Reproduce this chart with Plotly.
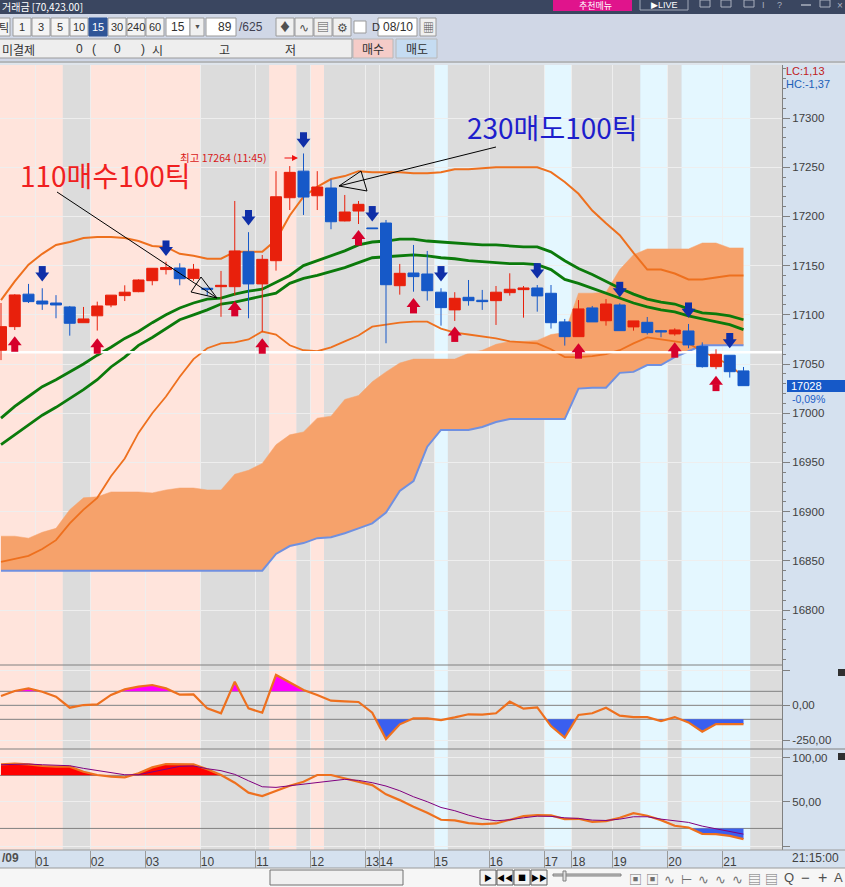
import numpy as np
import plotly.graph_objects as go

W, H = 845, 887

# ---------- data ----------
open_ = [17064,17088,17121,17114,17112,17108,17092,17099,17110,17119.5,17123.5,17134.7,17146,17147.6,17137,17127,17128.6,17128.6,17164,17131.4,
         17155,17219,17246,17221,17228.9,17195.4,17205.5,17188.3,17193.3,17129.6,17142.5,17141.5,17123,17105,17117.8,17114.8,17114.4,17122.5,17125.6,17127.3,
         17121.9,17092.8,17077.8,17107,17094,17110,17087.7,17092.4,17083.9,17080.6,17083.6,17068,17047.3,17058.9,17043]
high_ = [17112,17121,17131.4,17127,17120,17109,17108,17113.4,17120,17130,17136,17147.5,17154,17152.4,17151.7,17127,17144.6,17215.7,17184,17160.8,
         17246,17251.2,17264,17246,17237.7,17221.8,17215.7,17188.3,17196.4,17151.7,17171,17164.9,17127,17123,17135.4,17125.3,17129.3,17142.2,17129.3,17130.3,
         17130.3,17095.8,17115,17109,17116,17111.7,17093.8,17097.8,17084.6,17086.3,17090.7,17072,17065,17058.9,17047]
low_ = [17054,17084.6,17112,17105,17096.5,17078.8,17092,17084,17107.7,17114,17123,17130,17141,17130,17134.7,17119.5,17098,17120,17096.5,17082.9,
        17144.9,17206.5,17201.5,17206.5,17187,17195,17192.3,17187.6,17071.1,17120.5,17123.5,17114.4,17089,17093.8,17109.3,17105,17089.7,17119.5,17097.1,17103.2,
        17086,17068.7,17077.8,17092.8,17089,17083.9,17083.9,17080,17077.2,17078.8,17066,17046.3,17044.7,17036.2,17028]
close_ = [17088,17120.2,17113.4,17111,17110,17091.4,17095.8,17109,17120,17123,17135.4,17147.3,17148,17136.7,17146.3,17126,17130,17164.9,17131.4,17156.4,
          17220,17244.8,17219.7,17229.9,17194.6,17204.5,17212.3,17187.6,17130.6,17142.2,17138.8,17124.5,17107.3,17116.8,17114.4,17113.4,17123,17126,17127.3,17119.2,
          17092,17077.8,17106,17092.8,17111,17083.9,17093.8,17081.9,17082.6,17084.6,17069.4,17047.3,17059.9,17042.2,17028]

cloud_top = [16875,16875,16873,16879,16883,16902,16914,16915,16920,16920,
             16920,16919,16922,16924,16924,16922,16922,16938,16942,16949,
             16968,16978,16981,16995,16997,17014,17018,17032,17042,17051,
             17055,17055,17055,17055,17061,17064,17070,17073,17073,17074,
             17080,17082,17122,17122,17123,17146,17161,17167,17167,17167,
             17167,17173,17173,17168,17168]
cloud_low = [16840,16840,16840,16840,16840,16840,16840,16840,16840,16840,
             16840,16840,16840,16840,16840,16840,16840,16840,16840,16840,
             16857,16865,16868,16873,16874,16878,16883,16888,16899,16921,
             16931,16966,16983,16983,16983,16986,16991,16994,16994,16994,
             16994,16994,17025,17026,17026,17041,17042,17049,17049,17057,
             17063,17069,17069,17069,17069]
bb_upper = [17115,17134,17151,17162,17171,17174,17178,17179,17179,17178,
            17175,17170,17169,17162,17160,17157,17157,17164,17164,17164,
            17176,17201,17220,17230,17238,17241,17246,17245,17245,17245,
            17244,17244,17245,17248,17248,17249,17250,17250,17250,17250,
            17245,17235,17223,17206,17193,17181,17163,17146,17146,17142,
            17136,17136,17138,17140,17140]
bb_lower = [16849,16852,16855,16862,16871,16888,16902,16914,16936,16954,
            16980,17000,17017,17037,17055,17066,17071,17072,17075,17083,
            17080,17069,17064,17063,17067,17073,17079,17088,17090,17092,
            17093,17093,17086,17082,17080,17078,17076,17073,17072,17071,
            17065,17057,17057,17058,17060,17064,17071,17077,17075,17073,
            17071,17063,17056,17049,17037]
ma_fast = [16995,17007,17017,17027,17034,17042,17050,17059,17067,17076,
           17083,17092,17100,17107,17112,17116,17117,17121,17124,17126,
           17133,17140,17150,17155,17160,17165,17171,17174,17175,17177,
           17177,17175,17174,17173,17172,17171,17171,17170,17169,17169,
           17164,17155,17147,17141,17134,17127,17121,17116,17113,17111,
           17106,17102,17101,17099,17095]
ma_slow = [16968,16978,16988,16998,17006,17015,17024,17034,17047,17057,
           17069,17077,17086,17095,17100,17105,17111,17113,17116,17119,
           17122,17132,17137,17140,17144,17148,17153,17158,17159,17160,
           17161,17160,17158,17157,17155,17154,17153,17152,17152,17151,
           17146,17136,17132,17127,17122,17117,17112,17108,17105,17103,
           17099,17096,17093,17090,17085]
cci = [66.5,102,121,97,62,-17,2,7,74,114,
       133,145,121,76,78,-22,-57,169,-22,-53,
       217,162,109,74,33,28,24,-53,-241,-136,
       -93,-93,-105,-86,-64,-67,-57,26,-24,-15,
       -148,-231,-69,-57,-17,-74,-84,-84,-112,-84,
       -122,-188,-134,-134,-134]
stoch_k = [92.4,93.2,92.4,90.6,89.8,89.8,84.1,80.4,78.5,77.7,
           82.3,89,92.8,92.8,92.4,86.8,80.4,71.7,60.4,56.6,
           62.6,68.3,72.8,80.4,80.4,76.6,72,69,58.5,52,
           44.5,37.7,29.8,29,26,24.9,25.6,29.4,33.9,35,
           34.7,30.5,30.9,27.5,28.3,32,37.3,34.3,29.4,23,
           21.1,13.9,13.5,11.6,7.9]
stoch_d = [92,92.8,92.8,92,91.3,90.9,87.9,85.3,83,80.7,
           80.7,83.8,87.5,90.2,90.6,87.5,85.3,81.1,73.9,67.1,
           66.4,68.3,69.8,71.7,74.3,75.5,74.3,71.7,67.9,62.6,
           55.8,50.2,43.7,40,35,30.9,28.6,29.8,32,33.9,
           33.6,32,31.3,29.4,29,30.5,33.2,33.2,30.5,29,
           26.8,22.6,19.6,17.3,13.5]
buy_bar = [1,7,17,19,26,30,33,42,49,52]
buy_price = [17069,17067,17105,17067,17177,17108,17079,17062,17063,17029]
sell_bar = [3,12,18,22,27,32,39,45,50,53]
sell_price = [17143,17169,17200,17279,17204,17143,17146,17127,17106,17075]
session = list("PPPPPGGPPPPPPPPGGGGGPPGPGGGGGGGGLGGGGGGGLLGGGGGLLGLLLLL")
session_colors = {"P": "#FFE4DC", "G": "#DCDCDC", "L": "#E4F7FF"}
date_start_bar = [3,7,11,15,19,23,27,28,32,36,40,42,45,49,53]
date_labels = ["01","02","03","10","11","12","13","14","15","16","17","18","19","20","21"]
price_ticks = [16800,16850,16900,16950,17000,17050,17100,17150,17200,17250,17300]
ref_price = 17062
last_price = 17028
cci_levels = [100,0,-100]
stoch_levels = [80,20]

bars = list(range(len(close_)))
XMIN, XMAX = -1/13.75, 781/13.75
FONT = "Liberation Sans"
KR = "Noto Sans CJK KR"
ORANGE = "#EE701E"

def X(p): return p / W
def Y(p): return 1 - p / H

shapes, notes = [], []

def rect(x0, y0, x1, y1, fill, line=None, lw=1):
    shapes.append(dict(type="rect", xref="paper", yref="paper", x0=X(x0), x1=X(x1), y0=Y(y0), y1=Y(y1),
                       fillcolor=fill, line=dict(color=line or fill, width=lw if line else 0), layer="above"))

def hline(x0, x1, y, color, width=1):
    shapes.append(dict(type="line", xref="paper", yref="paper", x0=X(x0), x1=X(x1), y0=Y(y), y1=Y(y),
                       line=dict(color=color, width=width), layer="above"))

def note(x, y, text, size=12, color="#333333", family=KR, anchor="center"):
    notes.append(dict(xref="paper", yref="paper", x=X(x), y=Y(y), text=text, showarrow=False,
                      font=dict(size=size, color=color, family=family), xanchor=anchor, yanchor="middle"))

def path(points, color="#000000", close=False):
    d = "M " + " L ".join(f"{X(a):.5f} {Y(b):.5f}" for a, b in points) + (" Z" if close else "")
    shapes.append(dict(type="path", xref="paper", yref="paper", path=d, line=dict(color=color, width=1), layer="above"))

def clipped(values, level, above=True):
    """polygon of the part of a line beyond a level, with crossings inserted"""
    xs, ys = [], []
    v = np.array(values, float)
    for i in range(len(v)):
        if i and (v[i-1]-level)*(v[i]-level) < 0:
            t = (level-v[i-1])/(v[i]-v[i-1])
            xs.append(i-1+t); ys.append(level)
        xs.append(i)
        ys.append(max(v[i], level) if above else min(v[i], level))
    return xs + [xs[-1], xs[0]], ys + [level, level]

# ---------- sessions ----------
start = 0
for i in range(1, len(session)+1):
    if i == len(session) or session[i] != session[start]:
        shapes.append(dict(type="rect", xref="x", yref="paper", x0=start-0.5, x1=i-0.5, y0=Y(850), y1=Y(65),
                           fillcolor=session_colors[session[start]], line=dict(width=0), layer="below"))
        start = i
shapes.append(dict(type="rect", xref="x", yref="paper", x0=len(session)-0.5, x1=XMAX, y0=Y(850), y1=Y(65),
                   fillcolor=session_colors["G"], line=dict(width=0), layer="below"))

fig = go.Figure()

# ---------- price panel ----------
def line(y, color, width, xaxis="x", yaxis="y", **kw):
    fig.add_trace(go.Scatter(x=bars, y=y, mode="lines", line=dict(color=color, width=width),
                             xaxis=xaxis, yaxis=yaxis, hoverinfo="skip", showlegend=False, **kw))

line(cloud_top, "#F6A26B", 0.5)
line(cloud_low, "#7090E0", 2, fill="tonexty", fillcolor="#F6A26B")
line(bb_upper, ORANGE, 2)
line(bb_lower, ORANGE, 1.8)
line(ma_fast, "#0B7A0B", 2.8)
line(ma_slow, "#0B7A0B", 2.8)
fig.add_trace(go.Scatter(x=[XMIN, XMAX], y=[ref_price, ref_price], mode="lines",
                         line=dict(color="#FFFFFF", width=2.5), hoverinfo="skip", showlegend=False))
# candles and arrows sit on an overlay pair of axes so they draw above the lines
fig.add_trace(go.Candlestick(x=bars, open=open_, high=high_, low=low_, close=close_, whiskerwidth=0,
                             xaxis="x4", yaxis="y4",
                             increasing=dict(line=dict(color="#E8200C", width=1), fillcolor="#E8200C"),
                             decreasing=dict(line=dict(color="#1659C8", width=1), fillcolor="#1659C8"),
                             hoverinfo="skip", showlegend=False))

def arrows(bar, price, color, up):
    head = 3 if up else -3
    stem = -3 if up else 3
    sym = "triangle-up" if up else "triangle-down"
    fig.add_trace(go.Scatter(x=bar, y=[p+stem for p in price], mode="markers", hoverinfo="skip", showlegend=False,
                             xaxis="x4", yaxis="y4",
                             marker=dict(symbol="square", size=7, color=color, line=dict(width=0))))
    fig.add_trace(go.Scatter(x=bar, y=[p+head for p in price], mode="markers", hoverinfo="skip", showlegend=False,
                             xaxis="x4", yaxis="y4",
                             marker=dict(symbol=sym, size=12, color=color, line=dict(width=0))))

arrows(buy_bar, buy_price, "#D6002B", True)
arrows(sell_bar, sell_price, "#0F2FA8", False)

# ---------- CCI panel ----------
for values, above, colr in [(cci, True, "#FF00FF"), (cci, False, "#3A5FF0")]:
    px_, py_ = clipped(values, cci_levels[0] if above else cci_levels[2], above)
    fig.add_trace(go.Scatter(x=px_, y=py_, mode="none", fill="toself", fillcolor=colr, xaxis="x2", yaxis="y2",
                             hoverinfo="skip", showlegend=False))
line(cci, ORANGE, 2.2, "x2", "y2")

# ---------- stochastic panel ----------
for values, above, colr in [(stoch_k, True, "#FF0000"), (stoch_k, False, "#3A5FF0")]:
    px_, py_ = clipped(values, stoch_levels[0] if above else stoch_levels[1], above)
    fig.add_trace(go.Scatter(x=px_, y=py_, mode="none", fill="toself", fillcolor=colr, xaxis="x3", yaxis="y3",
                             hoverinfo="skip", showlegend=False))
line(stoch_k, ORANGE, 2.2, "x3", "y3")
line(stoch_d, "#800080", 1, "x3", "y3")

# level lines
for v in cci_levels:
    shapes.append(dict(type="line", xref="x2", yref="y2", x0=XMIN, x1=XMAX, y0=v, y1=v,
                       line=dict(color="#808080", width=1), layer="between"))
for v in stoch_levels:
    shapes.append(dict(type="line", xref="x3", yref="y3", x0=XMIN, x1=XMAX, y0=v, y1=v,
                       line=dict(color="#808080", width=1), layer="between"))
hline(0, 782, 665, "#808080")
hline(0, 845, 749, "#808080")
hline(0, 845, 850, "#9A9A9A")

# ---------- chart notes ----------
note(18, 175, "110매수100틱", 28, "#F02020", anchor="left")
note(465, 127, "230매도100틱", 28, "#1E1ECC", anchor="left")
note(178, 157, "최고 17264 (11:45)", 10.5, "#D81818", anchor="left")
notes.append(dict(xref="paper", yref="paper", x=X(298), y=Y(158), ax=-15, ay=0, text="", showarrow=True,
                  arrowcolor="#F01010", arrowhead=2, arrowwidth=1.2, arrowsize=1))
path([(57, 192), (217, 298)])
path([(201, 277), (191, 292), (217, 298)], close=True)
path([(496, 147), (339, 186)])
path([(361, 171), (367, 191), (339, 186)], close=True)

# ---------- right side notes ----------
note(784, 71, "LC:1,13", 11, "#C02020", FONT, "left")
note(784, 84, "HC:-1,37", 11, "#2060B8", FONT, "left")
rect(787, 380, 845, 392, "#1659C8")
note(789, 386, str(last_price), 11, "#FFFFFF", FONT, "left")
note(790, 399, "-0,09%", 10.5, "#2060C8", FONT, "left")
note(790, 858, "21:15:00", 12, "#404040", FONT, "left")
note(0, 858, "<b>/09</b>", 12, "#505050", FONT, "left")
rect(838, 669, 845, 676, "#303030")
rect(838, 753, 845, 760, "#303030")

# ---------- top bars ----------
rect(0, 0, 845, 14, "#3A4660")
rect(0, 14, 845, 61, "#D0D7E6")
hline(0, 845, 62, "#A8A8A8", 1.5)
hline(0, 845, 64, "#E8E8E8", 1)
note(0, 6, "거래금 [70,423.00]", 10, "#FFFFFF", anchor="left")
rect(553, 0, 632, 11, "#E0148C")
note(595, 5.5, "추천메뉴", 9, "#FFFFFF")
rect(640, -2, 688, 10, "#3A4660", "#A0A8B8")
note(664, 5, "▶LIVE", 9, "#FFFFFF", FONT)
for a in (700, 721, 744):
    rect(a, 0, a+10, 7, "#3A4660", "#AAB0BE")
note(763, 5, "I", 9, "#AAB0BE", FONT)
note(779, 5, "?", 9, "#AAB0BE", FONT)
hline(801, 811, 5, "#AAB0BE", 1.5)
rect(820, 0, 830, 7, "#3A4660", "#AAB0BE")
note(840, 5, "×", 10, "#AAB0BE", FONT)

def button(x0, x1, y0, y1, text, fill="#F4F4F4", color="#303030", size=12, border="#9A9A9A"):
    rect(x0, y0, x1, y1, fill, border)
    if text:
        note((x0+x1)/2, (y0+y1)/2, text, size, color, FONT if text[0].isdigit() else KR)

button(-2, 10, 18, 36, "틱", size=11)
for (a, b), t in zip([(13,31),(32,50),(51,69),(70,88),(108,126),(127,145),(146,164)], ["1","3","5","10","30","240","60"]):
    button(a, b, 18, 36, t, size=11)
button(89, 107, 18, 36, "15", "#2F5597", "#FFFFFF", 11, "#2F5597")
button(166, 190, 18, 36, "15", "#FFFFFF", size=12)
button(190, 204, 18, 36, "", "#F0F0F0")
note(197, 27, "▼", 7, "#505050", FONT)
button(206, 236, 18, 36, "", "#FFFFFF")
note(234, 27, "89", 12, "#303030", FONT, "right")
note(237, 27, "/625", 12, "#404050", FONT, "left")
for a, t in zip((276, 295, 314, 333), ("♦", "∿", "▤", "⚙")):
    button(a, a+18, 18, 36, t, "#F0F0F0", "#505050", 12)
button(354, 366, 21, 33, "", "#FFFFFF")
note(370, 27, "D", 11, "#303030", FONT, "left")
button(378, 417, 18, 36, "08/10", "#FFFFFF", size=12)
button(420, 436, 18, 36, "▦", "#F0F0F0", "#505050", 11)

button(-2, 352, 39, 58, "", "#EEEEEE")
note(0, 49, "미결제", 12, anchor="left")
note(85, 49, "0", 12, family=FONT, anchor="right")
note(94, 49, "(", 12, family=FONT)
note(117, 49, "0", 12, family=FONT)
note(143, 49, ")", 12, family=FONT)
note(150, 49, "시", 12, anchor="left")
note(224, 49, "고", 12)
note(290, 49, "저", 12)
button(353, 393, 39, 58, "매수", "#F5CCC8", "#303030", 12, "#B8B8B8")
button(396, 437, 39, 58, "매도", "#C5DCF2", "#303030", 12, "#B8B8B8")

# ---------- bottom bar ----------
rect(0, 868, 845, 887, "#F6F6F6")
hline(0, 845, 868, "#9A9A9A")
rect(270, 870, 403, 885, "#F0F0F0", "#707070")
for a, t in zip((480, 497, 514, 531), ("▶", "◀◀", "■", "▶▶")):
    button(a, a+16, 870, 885, t, "#F4F4F4", "#000000", 8, "#606060")
rect(553, 874, 621, 876, "#C8C8C8", "#808080")
rect(563, 871, 566, 881, "#E0E0E0", "#808080")
for a, t in zip((635, 652, 669, 686, 703, 720, 737, 754, 771), ("▣","▣","∿","⊢","∿","∿","∿","▤","▤")):
    note(a, 878, t, 13, "#707070")
note(789, 877, "Q", 13, "#505050", FONT)
note(805, 877, "−", 15, "#505050", FONT)
note(822, 877, "+", 16, "#505050", FONT)
note(838, 877, "A", 13, "#505050", FONT)

# ---------- layout ----------
right_edge = 782 / W
grid = "#EEEEEE"
price_range = [16744.1, 17353.9]
base_x = dict(range=[XMIN, XMAX], domain=[0, right_edge], tickmode="array",
              tickvals=[b-0.5 for b in date_start_bar], ticktext=date_labels,
              showgrid=True, gridcolor=grid, gridwidth=1, zeroline=False, showline=False, automargin=False)
axis_y = dict(side="right", showgrid=True, gridcolor=grid, zeroline=False, showline=True, linecolor="#808080",
              ticks="outside", tickcolor="#808080", ticklen=7, automargin=False,
              tickfont=dict(family=FONT, size=11.5, color="#404040"))

layout_x = dict(base_x, showticklabels=False, ticks="")
fig.update_layout(
    width=W, height=H, autosize=False, margin=dict(l=0, r=0, t=0, b=0),
    paper_bgcolor="#D5E1EF", plot_bgcolor="rgba(0,0,0,0)", showlegend=False, boxgap=0.2, boxgroupgap=0,
    shapes=shapes, annotations=notes, hovermode=False,
    xaxis=dict(layout_x, anchor="y"),
    xaxis2=dict(layout_x, anchor="y2", matches="x"),
    xaxis3=dict(base_x, anchor="y3", matches="x", ticks="outside", ticklen=18, tickcolor="#9A9A9A",
                tickangle=0, ticklabelshift=7, ticklabelstandoff=-17,
                tickfont=dict(family=FONT, size=12, color="#404040")),
    xaxis4=dict(range=[XMIN, XMAX], domain=[0, right_edge], overlaying="x", anchor="y4", visible=False,
                rangeslider=dict(visible=False)),
    yaxis=dict(axis_y, domain=[Y(665), Y(65)], range=price_range, anchor="x",
               tickmode="array", tickvals=price_ticks, tickformat="d",
               minor=dict(dtick=10, ticks="outside", ticklen=3, tickcolor="#808080", showgrid=False)),
    yaxis2=dict(axis_y, domain=[Y(749), Y(665)], range=[-312, 288], anchor="x2", tickmode="array",
                tickvals=[250, 0, -250], ticktext=["", "0,00", "-250,00"]),
    yaxis3=dict(axis_y, domain=[Y(850), Y(749)], range=[-4.4, 109.8], anchor="x3", tickmode="array",
                tickvals=[100, 50, 0], ticktext=["100,00", "50,00", ""]),
    yaxis4=dict(domain=[Y(665), Y(65)], range=price_range, overlaying="y", anchor="x4", visible=False, side="right"),
)

fig.write_html("out.html", config=dict(displayModeBar=False),
               post_script="document.body.style.margin='0';document.body.style.overflow='hidden';")
